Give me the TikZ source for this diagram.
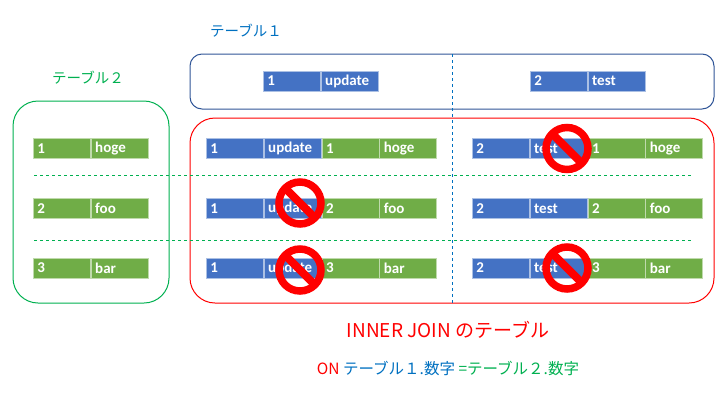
\documentclass[tikz,border=0pt]{standalone}
\usepackage{fontspec}
\setmainfont{Carlito}
\newfontfamily\jp{Noto Sans CJK JP}
\usetikzlibrary{positioning}
\definecolor{cblue}{HTML}{4472C4}
\definecolor{cgreen}{HTML}{70AD47}
\definecolor{tblue}{HTML}{0070C0}
\definecolor{tgreen}{HTML}{00B050}
\definecolor{boxblue}{HTML}{2F5597}
\tikzset{
bcell/.style={fill=cblue,draw=cblue!45!white,line width=0.8pt,minimum height=20pt,inner sep=0pt,inner xsep=4pt,text width=49pt,align=left,text=white,font=\fontsize{15}{15}\selectfont\bfseries,anchor=west},
gcell/.style={bcell,fill=cgreen,draw=cgreen!45!white},
ban/.style={circle,draw=red,line width=7.5pt,minimum size=42pt,inner sep=0pt,path picture={\draw[red,line width=8pt](path picture bounding box.north west)--(path picture bounding box.south east);}},
}
\begin{document}
\begin{tikzpicture}[x=1pt,y=-1pt]
\useasboundingbox(0,0)rectangle(720,405);
%boxes
\draw[boxblue,line width=1pt,rounded corners=12pt](190,54)rectangle(714,109);
\draw[red,line width=1pt,rounded corners=25pt](190,118)rectangle(714,303);
\draw[tgreen,line width=1pt,rounded corners=25pt](13,101)rectangle(169,303);
\draw[tblue,line width=0.8pt,dashed](452,54)--(452,305);
\foreach \y in {175,240}{\draw[tgreen,line width=0.8pt,dashed](34,\y)--(693,\y);}
%titles
\node[text=tblue,font=\jp\fontsize{14.5}{14.5}\selectfont](t1) at (246,31){テーブル１};
\node[text=tgreen,font=\jp\fontsize{14.5}{14.5}\selectfont](t2) at (88,78){テーブル２};
%table 1
\node[bcell](a1) at (263,81){1};
\node[bcell,right=0pt of a1](a2){update};
\node[bcell](b1) at (530,81){2};
\node[bcell,right=0pt of b1](b2){test};
%table 2 and join
\foreach \i/\n/\s/\y in {1/1/hoge/148.5,2/2/foo/208.5,3/3/bar/268}{
\node[gcell](s\i a) at (33,\y){\n};
\node[gcell,right=0pt of s\i a](s\i b){\s};
\node[bcell](l\i a) at (206,\y){1};
\node[bcell,right=0pt of l\i a](l\i b){update};
\node[gcell,right=0pt of l\i b](l\i c){\n};
\node[gcell,right=0pt of l\i c](l\i d){\s};
\node[bcell](r\i a) at (472,\y){2};
\node[bcell,right=0pt of r\i a](r\i b){test};
\node[gcell,right=0pt of r\i b](r\i c){\n};
\node[gcell,right=0pt of r\i c](r\i d){\s};
}
%no match
\node[ban](x1) at (567,148.5){};
\node[ban](x2) at (300,203){};
\node[ban](x3) at (300,270){};
\node[ban](x4) at (567,268){};
%caption
\node[text=red,font=\jp\fontsize{19}{19}\selectfont](c1) at (448,330){INNER JOIN のテーブル};
\node[font=\jp\fontsize{15.5}{15.5}\selectfont](c2) at (448,368){\textcolor{red}{ON} \textcolor{tblue}{テーブル１.数字} \textcolor{tgreen}{=テーブル２.数字}};
\end{tikzpicture}
\end{document}
